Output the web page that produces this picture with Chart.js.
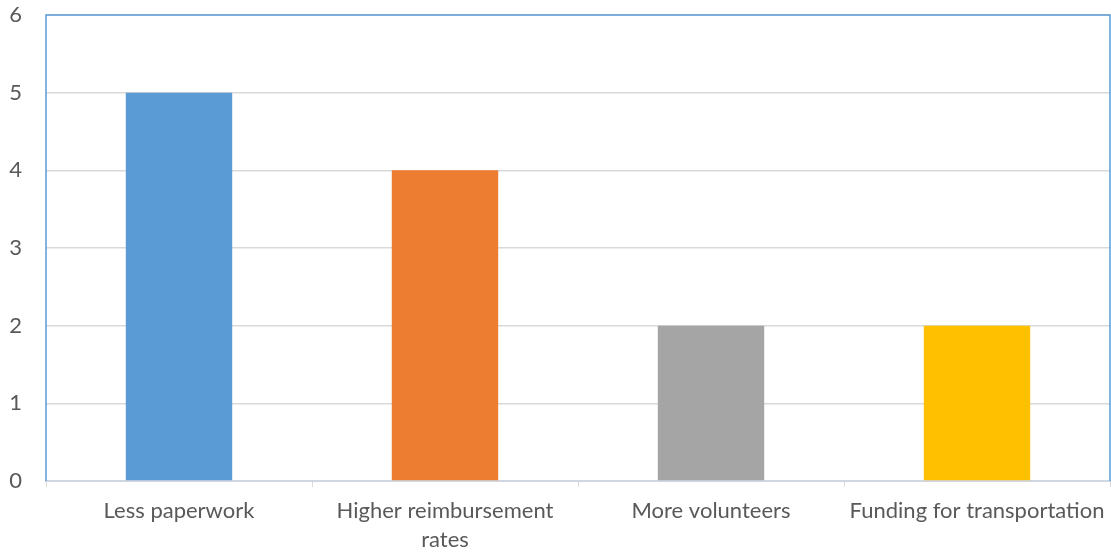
<!DOCTYPE html>
<html>
<head>
<meta charset="utf-8">
<script src="https://cdn.jsdelivr.net/npm/chart.js@4"></script>
<style>
  html, body { margin: 0; padding: 0; background: #fff; }
  #wrap { width: 1111px; height: 554px; }
</style>
</head>
<body>
<div id="wrap"><canvas id="barChart" width="1111" height="554"></canvas></div>
<script>
// Categories and counts
const categories = ['Less paperwork', ['Higher reimbursement', 'rates'], 'More volunteers', 'Funding for transportation'];
const counts = [5, 4, 2, 2];
const barColors = ['#5b9bd5', '#ed7d31', '#a5a5a5', '#ffc000'];
const yTicks = [0, 1, 2, 3, 4, 5, 6];

const textColor = '#595959';
const fontFamily = 'Lato, "Open Sans", sans-serif';

// Blue frame around the plotting area
const frame = {
    id: 'frame',
    afterDatasetsDraw(chart) {
        const a = chart.chartArea;
        const c = chart.ctx;
        c.save();
        c.strokeStyle = '#5b9bd5';
        c.lineWidth = 1.5;
        c.beginPath();
        c.moveTo(a.left, a.bottom);
        c.lineTo(a.left, a.top);
        c.lineTo(a.right, a.top);
        c.lineTo(a.right, a.bottom);
        c.stroke();
        c.restore();
    }
};

const ctx = document.getElementById('barChart').getContext('2d');
const barChart = new Chart(ctx, {
    type: 'bar',
    data: {
        labels: categories,
        datasets: [{
            data: counts,
            backgroundColor: barColors,
            borderWidth: 0,
            categoryPercentage: 1,
            barPercentage: 0.4
        }]
    },
    options: {
        responsive: false,
        animation: false,
        layout: { padding: { top: 15, right: 1, left: 0, bottom: 0 } },
        plugins: {
            legend: { display: false },
            tooltip: { enabled: false }
        },
        scales: {
            x: {
                offset: true,
                grid: {
                    drawOnChartArea: false,
                    drawTicks: true,
                    tickLength: 6,
                    color: '#d9d9d9',
                    offset: true
                },
                border: { color: '#d0d7e2', width: 2 },
                ticks: {
                    color: textColor,
                    font: { family: fontFamily, size: 22, lineHeight: 1.32 },
                    padding: 9,
                    maxRotation: 0,
                    autoSkip: false
                },
                afterFit: s => {
                    s.height = 73;
                    s.paddingLeft = 0;
                    s.paddingRight = 0;
                }
            },
            y: {
                min: 0,
                max: 6,
                afterBuildTicks: s => { s.ticks = yTicks.map(v => ({ value: v })); },
                grid: {
                    drawTicks: false,
                    color: '#d9d9d9',
                    lineWidth: 1.5
                },
                border: { display: false },
                ticks: {
                    color: textColor,
                    font: { family: fontFamily, size: 22 },
                    padding: 24
                },
                afterFit: s => {
                    s.width = 46;
                    s.paddingTop = 0;
                    s.paddingBottom = 0;
                }
            }
        }
    },
    plugins: [frame]
});
</script>
</body>
</html>
